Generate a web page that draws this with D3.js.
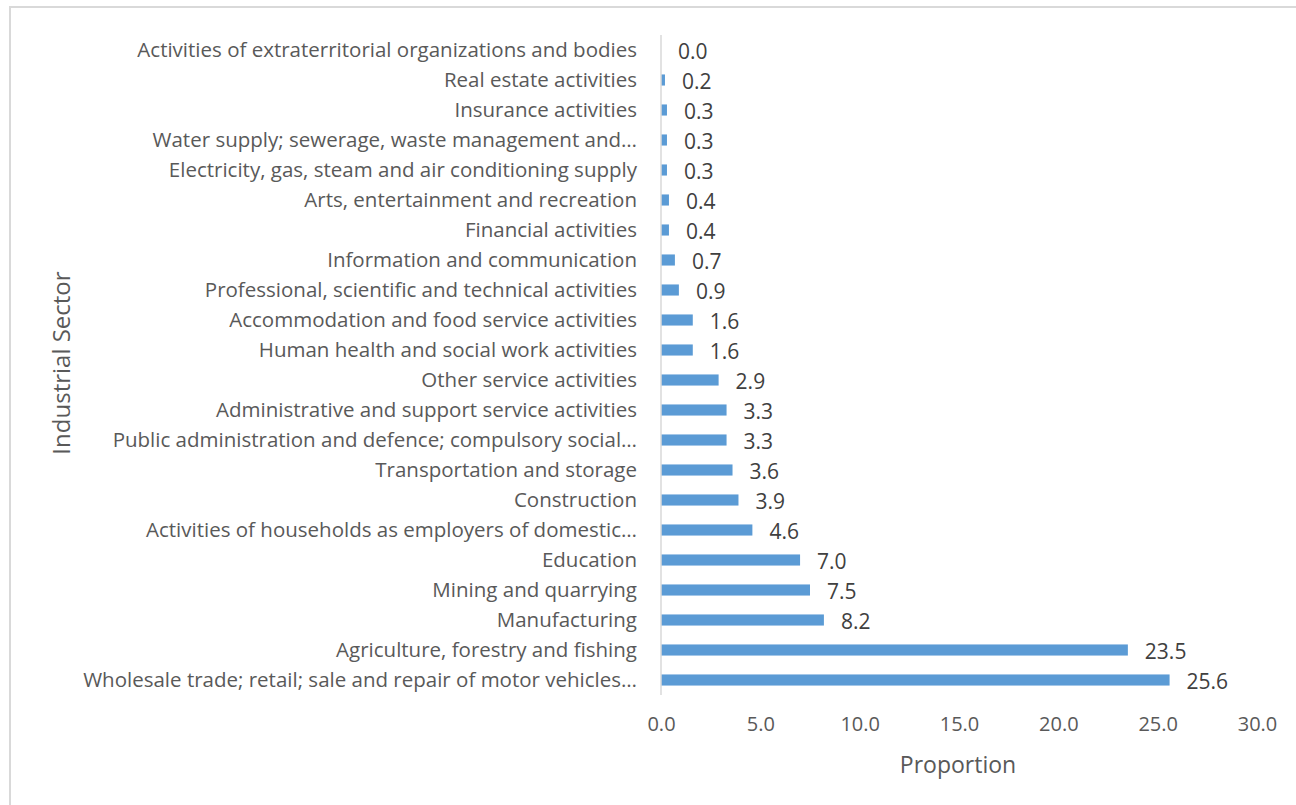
<!DOCTYPE html>
<html><head><meta charset="utf-8">
<script src="https://cdn.jsdelivr.net/npm/d3@7/dist/d3.min.js"></script>
<style>body{margin:0;background:#fff;} svg{display:block;}</style>
</head><body>
<svg id="chart" width="1296" height="805"></svg>
<script>
const categories = [
  "Activities of extraterritorial organizations and bodies",
  "Real estate activities",
  "Insurance activities",
  "Water supply; sewerage, waste management and…",
  "Electricity, gas, steam and air conditioning supply",
  "Arts, entertainment and recreation",
  "Financial activities",
  "Information and communication",
  "Professional, scientific and technical activities",
  "Accommodation and food service activities",
  "Human health and social work activities",
  "Other service activities",
  "Administrative and support service activities",
  "Public administration and defence; compulsory social…",
  "Transportation and storage",
  "Construction",
  "Activities of households as employers of domestic…",
  "Education",
  "Mining and quarrying",
  "Manufacturing",
  "Agriculture, forestry and fishing",
  "Wholesale trade; retail; sale and repair of motor vehicles…"
];
const values = [0.0, 0.2, 0.3, 0.3, 0.3, 0.4, 0.4, 0.7, 0.9, 1.6, 1.6, 2.9, 3.3, 3.3, 3.6, 3.9, 4.6, 7.0, 7.5, 8.2, 23.5, 25.6];
const xTicks = [0, 5, 10, 15, 20, 25, 30];
const xTitle = "Proportion";
const yTitle = "Industrial Sector";

const data = categories.map((c, i) => ({cat: c, val: values[i]}));
const svg = d3.select("#chart");
const font = "'Open Sans', sans-serif";
const textColor = "#595959";

// chart border
svg.append("path").attr("d", "M10,805 L10,7 L1296,7")
  .attr("fill", "none").attr("stroke", "#d9d9d9").attr("stroke-width", 2);

const x = d3.scaleLinear().domain([0, 30]).range([661, 1257]);
const y = d3.scaleBand().domain(categories).range([35, 695]).paddingInner(0.63).paddingOuter(0.315);

// bars
svg.append("g").selectAll("rect").data(data).join("rect")
  .attr("x", x(0))
  .attr("y", d => y(d.cat))
  .attr("width", d => x(d.val) - x(0))
  .attr("height", y.bandwidth())
  .attr("fill", "#5b9bd5");

// vertical axis line
svg.append("line").attr("x1", x(0)).attr("x2", x(0)).attr("y1", 35).attr("y2", 695)
  .attr("stroke", "#d9d9d9").attr("stroke-width", 1.5);

// category labels
const yAxis = d3.axisLeft(y).tickSize(0).tickPadding(24);
const ya = svg.append("g").attr("transform", `translate(${x(0)},0)`).call(yAxis);
ya.select(".domain").remove();
ya.selectAll("text").attr("font-family", font).attr("font-size", 20.5).attr("fill", textColor)
  .attr("dy", "0.35em");

// value labels
svg.append("g").selectAll("text").data(data).join("text")
  .attr("x", d => x(d.val) + 17)
  .attr("y", d => y(d.cat) + y.bandwidth() / 2)
  .attr("dy", "0.45em")
  .attr("font-family", font).attr("font-size", 21).attr("fill", "#404040")
  .text(d => d.val.toFixed(1));

// x axis tick labels
const xAxis = d3.axisBottom(x).tickValues(xTicks).tickSize(0).tickPadding(0).tickFormat(d3.format(".1f"));
const xa = svg.append("g").attr("transform", "translate(0,724)").call(xAxis);
xa.select(".domain").remove();
xa.selectAll("text").attr("font-family", font).attr("font-size", 20).attr("fill", textColor)
  .attr("dy", "0.35em");

// axis titles
svg.append("text").attr("x", 958).attr("y", 765).attr("dy", "0.35em")
  .attr("text-anchor", "middle").attr("font-family", font).attr("font-size", 23).attr("fill", textColor)
  .text(xTitle);
svg.append("text").attr("transform", "translate(62,363) rotate(-90)").attr("dy", "0.35em")
  .attr("text-anchor", "middle").attr("font-family", font).attr("font-size", 24).attr("fill", textColor)
  .text(yTitle);
</script>
</body></html>
